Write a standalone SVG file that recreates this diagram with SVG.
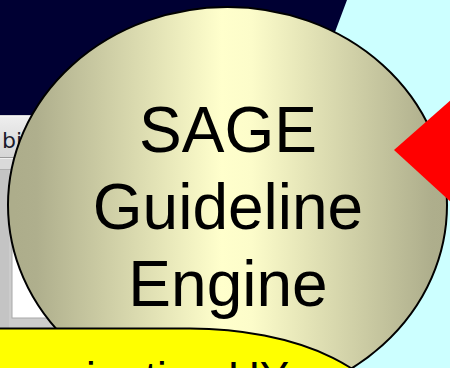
<svg xmlns="http://www.w3.org/2000/svg" width="450" height="368" viewBox="0 0 450 368">
  <defs>
    <linearGradient id="olive" gradientUnits="userSpaceOnUse" x1="15" y1="0" x2="445" y2="0">
      <stop offset="0" stop-color="#adad8b"/>
      <stop offset="0.05" stop-color="#afaf8d"/>
      <stop offset="0.48" stop-color="#ffffcc"/>
      <stop offset="0.55" stop-color="#fcfcca"/>
      <stop offset="0.97" stop-color="#aeae8c"/>
      <stop offset="1" stop-color="#adad8b"/>
    </linearGradient>
    <linearGradient id="toolbar" x1="0" y1="0" x2="0" y2="1">
      <stop offset="0" stop-color="#eeeeee"/>
      <stop offset="1" stop-color="#d6d6d6"/>
    </linearGradient>
  </defs>
  <style>
    .big { font-family: "Liberation Sans", Arial, sans-serif; font-size: 64px; fill: #000; text-anchor: middle; }
    .lbl { font-family: "Liberation Sans", Arial, sans-serif; font-size: 44px; fill: #000; }
    .outline { stroke: #000; stroke-width: 2; }
  </style>

  <!-- backgrounds -->
  <rect x="0" y="0" width="450" height="368" fill="#000033"/>
  <polygon points="347,0 450,0 450,368 209,368" fill="#ccffff"/>

  <!-- grey window fragment -->
  <g id="window">
    <rect x="0" y="115" width="120" height="213" fill="#cccccc"/>
    <rect x="0" y="116" width="120" height="41" fill="url(#toolbar)"/>
    <line x1="0" y1="116.5" x2="120" y2="116.5" stroke="#f4f4f4" stroke-width="1.5"/>
    <line x1="0" y1="157.5" x2="120" y2="157.5" stroke="#9a9a9a" stroke-width="1"/>
    <line x1="0" y1="158.5" x2="120" y2="158.5" stroke="#f0f0f0" stroke-width="1"/>
    <rect x="0" y="159" width="120" height="10" fill="#dadada"/>
    <line x1="0" y1="169.5" x2="120" y2="169.5" stroke="#b0b0b0" stroke-width="1"/>
    <rect x="0" y="170" width="9" height="158" fill="#c4c4c4"/>
    <rect x="12" y="240" width="108" height="78" fill="#ffffff" stroke="#a8a8a8" stroke-width="1"/>
    <text x="2" y="148" font-family="Tahoma, 'DejaVu Sans', sans-serif" font-size="22" fill="#1c1c2c">bi</text>
  </g>

  <!-- main engine node -->
  <g id="sage-engine">
    <ellipse cx="227.5" cy="205" rx="219.5" ry="198" fill="url(#olive)" class="outline"/>
    <text class="big" x="228" y="152">SAGE</text>
    <text class="big" x="228" y="229">Guideline</text>
    <text class="big" x="228" y="306">Engine</text>
  </g>

  <!-- connectors -->
  <g id="connectors">
    <polygon points="394,150 452,99 452,203" fill="#ff0000"/>
  </g>

  <!-- yellow node at bottom -->
  <g id="ux-node">
    <path d="M -10 328.5 H 190 A 202 100 0 0 1 392 428.5 V 480 H -10 Z" fill="#ffff00" class="outline"/>
    <text class="lbl" x="86" y="393">ination UY</text>
  </g>
</svg>
